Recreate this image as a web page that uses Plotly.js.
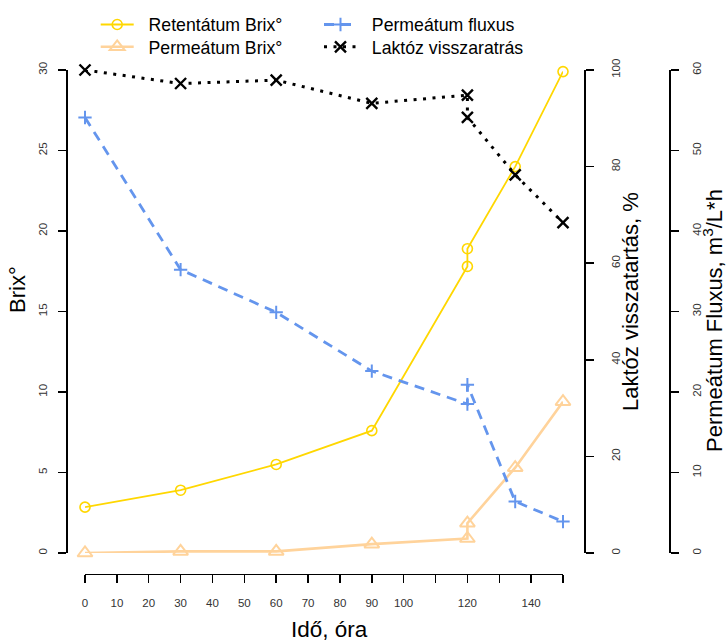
<!DOCTYPE html>
<html>
<head>
<meta charset="utf-8">
<script src="https://cdn.plot.ly/plotly-3.0.1.min.js"></script>
<style>
  html, body { margin: 0; padding: 0; background: #fff; }
  #chart { width: 727px; height: 641px; }
</style>
</head>
<body>
<div id="chart"></div>
<script>
// Sampling times (hours); two measurements were taken at 120 h
const ido = [0, 30, 60, 90, 120, 120, 135, 150];

// Retentate and permeate dry matter (Brix°)
const retentatumBrix = [2.85, 3.9, 5.5, 7.6, 17.8, 18.9, 24.0, 29.9];
const permeatumBrix = [0, 0.1, 0.1, 0.55, 0.9, 1.85, 5.3, 9.4];

// Permeate flux (m3/L*h) and lactose retention (%)
const permeatumFluxus = [54.1, 35.2, 29.9, 22.6, 18.5, 20.9, 6.4, 3.9];
const laktozVisszatartas = [100, 97.2, 97.9, 93.1, 94.8, 90.2, 78.3, 68.4];

// Labelled time ticks; unlabelled ones every 10 h come from minor ticks
const xTickVals = [0, 10, 20, 30, 40, 50, 60, 70, 80, 90, 100, 120, 140];
const xTickText = ['0', '10', '20', '30', '40', '50', '60', '70', '80', '90', '100', '120', '140'];

const W = 727, H = 641;
const px = v => v / W;          // horizontal pixel -> paper
const py = v => 1 - v / H;      // vertical pixel -> paper

const FONT = '"Liberation Sans", Arial, Helvetica, sans-serif';
const tickFont = { family: FONT, size: 11.5, color: '#333' };
const legendFont = { family: FONT, size: 17.7, color: '#000' };
const titleFont = { family: FONT, size: 22, color: '#000' };
const pad = '\u00a0\u00a0';     // small gap between legend symbol and label

const traces = [
  {
    name: pad + 'Retentátum Brix°', x: ido, y: retentatumBrix, yaxis: 'y',
    mode: 'lines+markers', legend: 'legend', cliponaxis: false,
    line: { color: '#FFD700', width: 1.8 },
    marker: { symbol: 'circle-open', size: 10, color: '#FFD700', line: { width: 1.6, color: '#FFD700' } }
  },
  {
    name: pad + 'Permeátum Brix°', x: ido, y: permeatumBrix, yaxis: 'y',
    mode: 'lines+markers', legend: 'legend2', cliponaxis: false,
    line: { color: '#FFD39B', width: 2.6 },
    marker: { symbol: 'triangle-up-open', size: 13, color: '#FFD39B', line: { width: 2, color: '#FFD39B' } }
  },
  {
    name: pad + 'Permeátum fluxus', x: ido, y: permeatumFluxus, yaxis: 'y3',
    mode: 'lines+markers', legend: 'legend3', cliponaxis: false,
    line: { color: '#6495ED', width: 2.8, dash: '10px,7px' },
    marker: { symbol: 'cross-thin-open', size: 9.5, color: '#6495ED', line: { width: 2, color: '#6495ED' } }
  },
  {
    name: pad + 'Laktóz visszaratrás', x: ido, y: laktozVisszatartas, yaxis: 'y2',
    mode: 'lines+markers', legend: 'legend4', cliponaxis: false,
    line: { color: '#000000', width: 3, dash: '3px,6.5px' },
    marker: { symbol: 'x-thin-open', size: 11, color: '#000000', line: { width: 2.4, color: '#000000' } }
  }
];

const axisCommon = {
  showgrid: false, zeroline: false, showline: true,
  linecolor: '#000', linewidth: 1.5,
  ticks: 'outside', ticklen: 8, tickwidth: 1.5, tickcolor: '#000',
  tickfont: tickFont, anchor: 'free', fixedrange: true
};

function legendAt(x, y) {
  return {
    x: px(x), y: py(y), xanchor: 'left', yanchor: 'top',
    orientation: 'v', bgcolor: 'rgba(0,0,0,0)', borderwidth: 0,
    font: legendFont, itemwidth: 33, tracegroupgap: 0
  };
}

const layout = {
  width: W, height: H,
  margin: { l: 0, r: 0, t: 0, b: 0 },
  paper_bgcolor: '#fff', plot_bgcolor: 'rgba(0,0,0,0)',
  font: { family: FONT, color: '#000' },
  showlegend: true,
  xaxis: Object.assign({}, axisCommon, {
    domain: [px(85), px(563)], range: [0, 150],
    position: py(573.5),
    tickmode: 'array', tickvals: xTickVals, ticktext: xTickText,
    ticklabelstandoff: 10,
    minor: { dtick: 10, tick0: 0, ticks: 'outside', ticklen: 8, tickwidth: 1.5, tickcolor: '#000', showgrid: false }
  }),
  yaxis: Object.assign({}, axisCommon, {
    domain: [py(553), py(70)], range: [0, 30],
    position: px(66), side: 'left',
    tickmode: 'linear', tick0: 0, dtick: 5, tickangle: -90,
    ticklabelstandoff: 6
  }),
  yaxis2: Object.assign({}, axisCommon, {
    overlaying: 'y', range: [0, 100],
    position: px(584), side: 'right',
    tickmode: 'linear', tick0: 0, dtick: 20, tickangle: -90,
    ticklabelstandoff: 13
  }),
  yaxis3: Object.assign({}, axisCommon, {
    overlaying: 'y', range: [0, 60],
    position: px(669), side: 'right',
    tickmode: 'linear', tick0: 0, dtick: 10, tickangle: -90,
    ticklabelstandoff: 9
  }),
  legend: legendAt(95.7, 6.5),
  legend2: legendAt(95.7, 28.8),
  legend3: legendAt(319, 6.5),
  legend4: legendAt(319, 28.8),
  annotations: [
    {
      text: 'Brix°', xref: 'paper', yref: 'paper', x: px(18), y: py(290),
      xanchor: 'center', yanchor: 'middle', textangle: -90, showarrow: false,
      font: titleFont
    },
    {
      text: 'Laktóz visszatartás, %', xref: 'paper', yref: 'paper', x: px(630), y: py(302),
      xanchor: 'center', yanchor: 'middle', textangle: -90, showarrow: false,
      font: titleFont
    },
    {
      text: 'Permeátum Fluxus, m<sup>3</sup>/L*h', xref: 'paper', yref: 'paper', x: px(713), y: py(321),
      xanchor: 'center', yanchor: 'middle', textangle: -90, showarrow: false,
      font: titleFont
    },
    {
      text: 'Idő, óra', xref: 'paper', yref: 'paper', x: px(329), y: py(629),
      xanchor: 'center', yanchor: 'middle', showarrow: false,
      font: { family: FONT, size: 22.5, color: '#000' }
    }
  ]
};

Plotly.newPlot('chart', traces, layout, { displayModeBar: false, staticPlot: true });
</script>
</body>
</html>
